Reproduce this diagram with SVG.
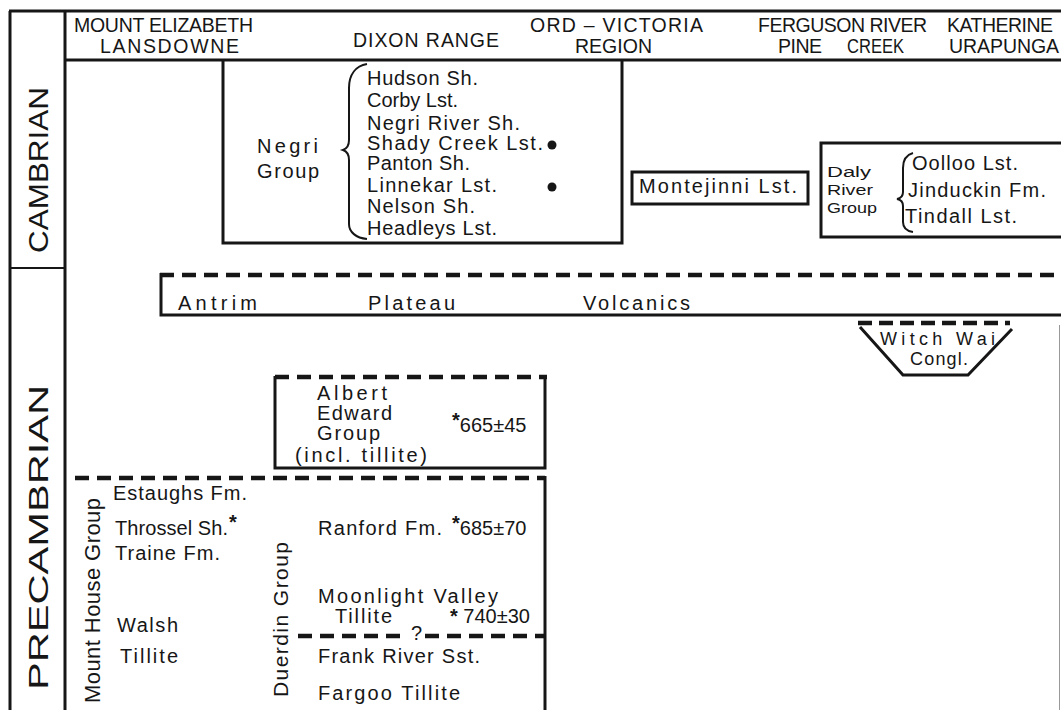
<svg xmlns="http://www.w3.org/2000/svg" width="1061" height="710" viewBox="0 0 1061 710">
<style>
.t{font-family:"Liberation Sans",Arial,sans-serif;font-size:20px;fill:#161616}
.h{font-family:"Liberation Sans",Arial,sans-serif;font-size:19.5px;fill:#161616}
.p{font-family:"Liberation Sans",Arial,sans-serif;font-size:28px;fill:#161616}
.s{fill:none;stroke:#161616;stroke-width:3}
.d{fill:none;stroke:#161616;stroke-width:4.5;stroke-dasharray:14 8}
.st{font-weight:bold}
</style>
<rect width="1061" height="710" fill="#fff"/>
<g id="frame">
<path class="s" d="M9,11 L1061,11 M10,11 L10,710 M65,11 L65,710 M65,60 L1061,60"/>
<path class="s" d="M10,268 L65,268" style="stroke-width:2"/>
<path d="M1059.5,325 L1059.5,710" stroke="#999" stroke-width="1" fill="none"/>
</g>
<g id="periods">
<text class="p" transform="translate(48,253) rotate(-90)" textLength="166" lengthAdjust="spacingAndGlyphs">CAMBRIAN</text>
<text class="p" transform="translate(48,690) rotate(-90)" textLength="305" lengthAdjust="spacingAndGlyphs">PRECAMBRIAN</text>
</g>
<g id="header">
<text class="h" x="74" y="32" textLength="179">MOUNT ELIZABETH</text>
<text class="h" x="100" y="53" textLength="139">LANSDOWNE</text>
<text class="h" x="353" y="47" textLength="146">DIXON RANGE</text>
<text class="h" x="530" y="32" textLength="173">ORD – VICTORIA</text>
<text class="h" x="575" y="53" textLength="77">REGION</text>
<text class="h" x="758" y="32" textLength="169">FERGUSON RIVER</text>
<text class="h" x="947" y="32" textLength="106">KATHERINE</text>
<text class="h" x="778" y="53" textLength="44">PINE</text>
<text class="h" x="847" y="53" textLength="57" lengthAdjust="spacingAndGlyphs">CREEK</text>
<text class="h" x="949" y="53" textLength="110">URAPUNGA</text>
</g>
<g id="negri-group">
<path class="s" d="M223,60 L223,243 L622,243 L622,60"/>
<text class="t" x="257" y="153" textLength="61">Negri</text>
<text class="t" x="257" y="178" textLength="62">Group</text>
<path d="M367,64 C356,66 349,74 349,88 L349,140 Q349,148 343,150 Q349,152 349,160 L349,224 C349,232 356,238 367,239" fill="none" stroke="#161616" stroke-width="2"/>
<text class="t" x="367" y="85" textLength="111">Hudson Sh.</text>
<text class="t" x="367" y="107" textLength="91">Corby Lst.</text>
<text class="t" x="367" y="130" textLength="153">Negri River Sh.</text>
<text class="t" x="367" y="150" textLength="176">Shady Creek Lst.</text>
<text class="t" x="367" y="170" textLength="103">Panton Sh.</text>
<text class="t" x="367" y="192" textLength="130">Linnekar Lst.</text>
<text class="t" x="367" y="213" textLength="108">Nelson Sh.</text>
<text class="t" x="367" y="235" textLength="130">Headleys Lst.</text>
<circle cx="552" cy="145" r="4.5" fill="#161616"/>
<circle cx="552" cy="187" r="4.5" fill="#161616"/>
</g>
<g id="montejinni">
<rect class="s" x="632" y="172" width="176" height="32"/>
<text class="t" x="639" y="193" textLength="158">Montejinni Lst.</text>
</g>
<g id="daly-river-group">
<path class="s" d="M1061,143 L821,143 L821,237 L1061,237"/>
<text class="t" style="font-size:15.5px" x="827" y="177" textLength="44" lengthAdjust="spacingAndGlyphs">Daly</text>
<text class="t" style="font-size:15.5px" x="827" y="195" textLength="46" lengthAdjust="spacingAndGlyphs">River</text>
<text class="t" style="font-size:15.5px" x="827" y="213" textLength="50" lengthAdjust="spacingAndGlyphs">Group</text>
<path d="M913,153 C906,155 903,160 903,168 L903,192 Q903,198 897,199 Q903,200 903,206 L903,222 C903,228 906,231 913,232" fill="none" stroke="#161616" stroke-width="2"/>
<text class="t" x="912" y="170" textLength="106">Oolloo Lst.</text>
<text class="t" x="908" y="197" textLength="138">Jinduckin Fm.</text>
<text class="t" x="905" y="223" textLength="112">Tindall Lst.</text>
</g>
<g id="antrim-plateau-volcanics">
<path class="d" d="M160,275 L1061,275"/>
<path class="s" d="M161,273 L161,315 L1061,315"/>
<text class="t" x="178" y="310" textLength="79">Antrim</text>
<text class="t" x="368" y="310" textLength="87">Plateau</text>
<text class="t" x="583" y="310" textLength="107">Volcanics</text>
</g>
<g id="witch-wai-congl">
<path class="d" d="M858,323 L1010,323" style="stroke-dasharray:14 7"/>
<path class="s" d="M860,327 L903,375 L968,375 L1012,329"/>
<text class="t" style="font-size:18px" x="880" y="345" textLength="115">Witch Wai</text>
<text class="t" style="font-size:18px" x="910" y="365" textLength="58">Congl.</text>
</g>
<g id="albert-edward-group">
<path class="d" d="M275,377 L547,377"/>
<path class="s" d="M275,376 L275,468 L545,468 L545,376"/>
<text class="t" x="317" y="400" textLength="70">Albert</text>
<text class="t" x="317" y="420" textLength="75">Edward</text>
<text class="t" x="317" y="440" textLength="63">Group</text>
<text class="t" x="295" y="462" textLength="132">(incl. tillite)</text>
<text class="t" x="452" y="432"><tspan class="st" dy="-5">*</tspan><tspan dy="5">665±45</tspan></text>
</g>
<g id="lower-box">
<path class="d" d="M75,478 L545,478"/>
<path class="s" d="M545,476 L545,710"/>
</g>
<g id="mount-house-group">
<text class="t" style="font-size:22px" transform="translate(100,703) rotate(-90)" textLength="205">Mount House Group</text>
<text class="t" x="113" y="500" textLength="134">Estaughs Fm.</text>
<text class="t" x="115" y="535" textLength="113">Throssel Sh.</text>
<text class="t st" x="229" y="529">*</text>
<text class="t" x="115" y="560" textLength="105">Traine Fm.</text>
<text class="t" x="117" y="632" textLength="61">Walsh</text>
<text class="t" x="120" y="663" textLength="58">Tillite</text>
</g>
<g id="duerdin-group">
<text class="t" style="font-size:21px" transform="translate(288,697) rotate(-90)" textLength="155">Duerdin Group</text>
<text class="t" x="318" y="535" textLength="124">Ranford Fm.</text>
<text class="t" x="452" y="535"><tspan class="st" dy="-5">*</tspan><tspan dy="5">685±70</tspan></text>
<text class="t" x="318" y="603" textLength="180">Moonlight Valley</text>
<text class="t" x="335" y="623" textLength="57">Tillite</text>
<text class="t" x="450" y="623"><tspan class="st">*</tspan> 740±30</text>
<path class="d" d="M298,636 L405,636 M425,636 L545,636"/>
<text class="t" x="411" y="640">?</text>
<text class="t" x="318" y="663" textLength="162">Frank River Sst.</text>
<text class="t" x="318" y="700" textLength="142">Fargoo Tillite</text>
</g>
</svg>
